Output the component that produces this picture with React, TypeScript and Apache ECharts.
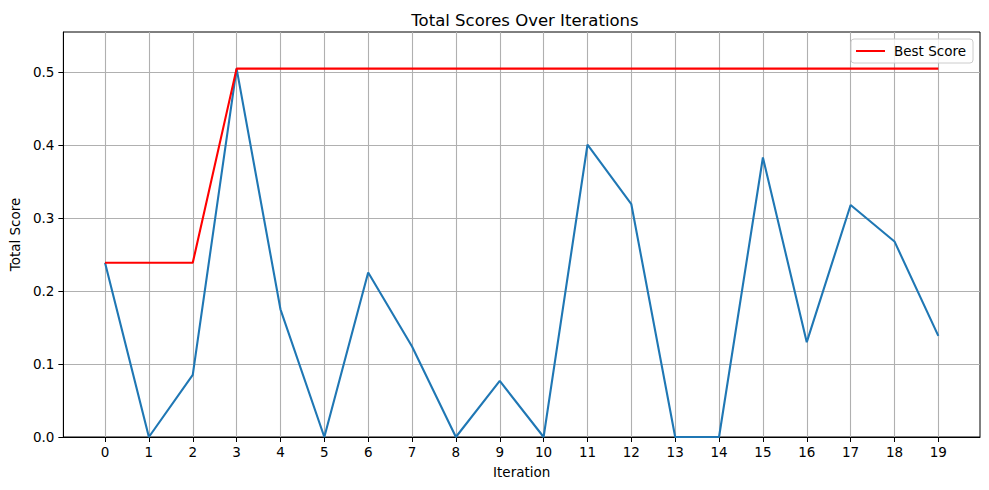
import React, { useEffect, useRef } from "react";
import * as echarts from "echarts";

const iterations: number[] = [0, 1, 2, 3, 4, 5, 6, 7, 8, 9, 10, 11, 12, 13, 14, 15, 16, 17, 18, 19];
const totalScores: number[] = [
  0.2387, 0, 0.085, 0.5048, 0.175, 0, 0.2254, 0.124, 0, 0.0768,
  0, 0.4005, 0.319, 0, 0, 0.383, 0.13, 0.318, 0.268, 0.1386,
];
const bestScores: number[] = [
  0.2387, 0.2387, 0.2387, 0.5048, 0.5048, 0.5048, 0.5048, 0.5048, 0.5048, 0.5048,
  0.5048, 0.5048, 0.5048, 0.5048, 0.5048, 0.5048, 0.5048, 0.5048, 0.5048, 0.5048,
];
const yTicks: number[] = [0, 0.1, 0.2, 0.3, 0.4, 0.5];

const FONT = "DejaVu Sans";

export default function App() {
  const ref = useRef<HTMLDivElement>(null);
  useEffect(() => {
    if (!ref.current) return;
    const chart = echarts.init(ref.current, null, { renderer: "svg" });
    chart.setOption({
      animation: false,
      backgroundColor: "#ffffff",
      textStyle: { fontFamily: FONT },
      title: {
        text: "Total Scores Over Iterations",
        left: 520,
        textAlign: "center",
        top: 7,
        textStyle: { fontFamily: FONT, fontSize: 16.5, fontWeight: "normal", color: "#000" },
      },
      legend: {
        data: ["Best Score"],
        right: 16,
        top: 39,
        backgroundColor: "rgba(255,255,255,0.8)",
        borderColor: "#cccccc",
        borderWidth: 1,
        borderRadius: 3,
        padding: [5, 7, 5, 5],
        itemWidth: 29,
        itemHeight: 2,
        itemGap: 10,
        icon: "rect",
        textStyle: { fontFamily: FONT, fontSize: 13.5, color: "#000", padding: [0, 0, 0, 4] },
      },
      grid: {
        left: 61,
        right: 9,
        top: 32,
        bottom: 53,
        show: true,
        borderColor: "#000",
        borderWidth: 1,
        containLabel: false,
      },
      xAxis: {
        type: "value",
        min: -0.95,
        max: 19.95,
        name: "Iteration",
        nameLocation: "middle",
        nameGap: 28,
        nameTextStyle: { fontFamily: FONT, fontSize: 13.5, color: "#000" },
        axisLine: { show: true, onZero: false, lineStyle: { color: "#000", width: 1 } },
        axisTick: {
          show: true,
          length: 5,
          inside: false,
          customValues: iterations,
          lineStyle: { color: "#000", width: 1 },
        },
        axisLabel: {
          fontFamily: FONT,
          fontSize: 13.5,
          color: "#000",
          margin: 8,
          customValues: iterations,
          formatter: (v: number) => String(Math.round(v)),
        },
        splitLine: { show: true, lineStyle: { color: "#b0b0b0", width: 1.1 } },
      },
      yAxis: {
        type: "value",
        min: 0,
        max: 0.555,
        name: "Total Score",
        nameLocation: "middle",
        nameGap: 39,
        nameTextStyle: { fontFamily: FONT, fontSize: 13.5, color: "#000" },
        axisLine: { show: true, onZero: false, lineStyle: { color: "#000", width: 1 } },
        axisTick: {
          show: true,
          length: 5,
          inside: false,
          customValues: yTicks,
          lineStyle: { color: "#000", width: 1 },
        },
        axisLabel: {
          fontFamily: FONT,
          fontSize: 13.5,
          color: "#000",
          margin: 9,
          customValues: yTicks,
          formatter: (v: number) => v.toFixed(1),
        },
        splitLine: { show: true, lineStyle: { color: "#b0b0b0", width: 1.1 } },
      },
      series: [
        {
          name: "Total Score",
          type: "line",
          data: iterations.map((x, i) => [x, totalScores[i]]),
          showSymbol: false,
          symbol: "none",
          lineStyle: { color: "#1f77b4", width: 2.1 },
          itemStyle: { color: "#1f77b4" },
          z: 3,
        },
        {
          name: "Best Score",
          type: "line",
          data: iterations.map((x, i) => [x, bestScores[i]]),
          showSymbol: false,
          symbol: "none",
          lineStyle: { color: "#ff0000", width: 2.1 },
          itemStyle: { color: "#ff0000" },
          z: 4,
        },
      ],
    });
    return () => chart.dispose();
  }, []);
  return <div ref={ref} style={{ width: 989, height: 490, position: "absolute", left: 0, top: 0 }} />;
}
